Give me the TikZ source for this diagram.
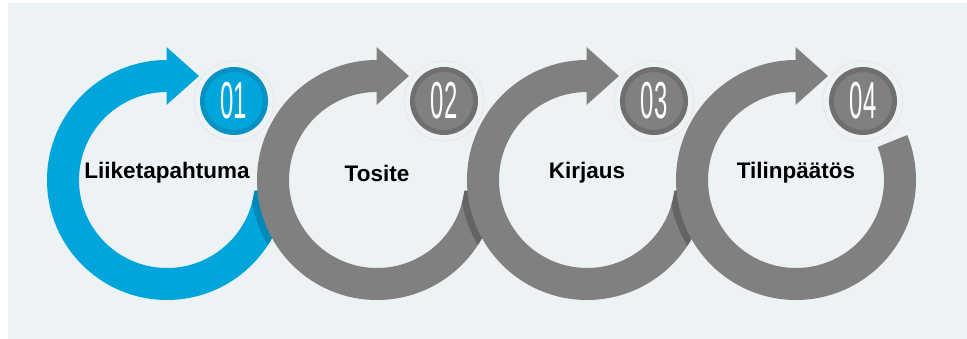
\documentclass[tikz,border=0pt]{standalone}
\usepackage{fontspec}
\setmainfont{Liberation Sans}
\usetikzlibrary{calc}

\definecolor{panelbg}{HTML}{EDF2F5}
\definecolor{halo}{HTML}{E1E8EC}
\definecolor{stepblue}{HTML}{00A6DB}
\definecolor{stepblueedge}{HTML}{0892C4}
\definecolor{stepbluedark}{HTML}{0089B8}
\definecolor{stepgray}{HTML}{808080}
\definecolor{stepgrayedge}{HTML}{6F6F6F}
\definecolor{stepgraydark}{HTML}{646464}

\tikzset{
  steplabel/.style={font=\bfseries\fontsize{22.5}{25}\selectfont, text=black, inner sep=0pt},
  badge/.style={circle, minimum size=63pt, inner sep=0pt, line width=5pt,
    text=white, font=\fontsize{52}{54}\selectfont},
}

\begin{document}
\begin{tikzpicture}[x=1pt, y=1pt]
          \useasboundingbox (0,0) rectangle (967,339);
          \fill[panelbg] (8,0) rectangle (967,336);

          \coordinate (c1) at (167,159);
          \coordinate (c2) at (377,159);
          \coordinate (c3) at (587,159);
          \coordinate (c4) at (796,159);

          % \dark: shadow colour cast on the previous ring
          \foreach \i/\col/\edge/\dark/\lab/\endang in {
              1/stepblue/stepblueedge/stepbluedark/Liiketapahtuma/352,
              2/stepgray/stepgrayedge/stepbluedark/Tosite/352,
              3/stepgray/stepgrayedge/stepgraydark/Kirjaus/352,
              4/stepgray/stepgrayedge/stepgraydark/Tilinpäätös/382} {
            \ifnum\i>1
              \pgfmathtruncatemacro\prev{\i-1}
              \begin{scope}[even odd rule]
                \clip (c\prev) circle[radius=120pt] (c\prev) circle[radius=88pt];
                \fill[\dark]
                  ($(c\i)+(185:127pt)$) arc[start angle=185, end angle=213, radius=127pt]
                  -- ($(c\i)+(213:119pt)$) arc[start angle=213, end angle=185, radius=119pt] -- cycle;
              \end{scope}
            \fi
            % ring and arrow head
            \fill[\col] ($(c\i)+(90:120pt)$) arc[start angle=90, end angle=\endang, radius=120pt]
              -- ($(c\i)+(\endang:88pt)$) arc[start angle=\endang, end angle=90, radius=88pt] -- cycle;
            \fill[\col] ($(c\i)+(-0.5,133)$) -- ($(c\i)+(32,104)$) -- ($(c\i)+(-0.5,75)$) -- cycle;

            \node[steplabel] (lab\i) at ($(c\i)+(0,7)$) {\lab};

            \draw[halo, line width=0.8pt] ($(c\i)+(67,79)$) circle[radius=40pt];
            \node[badge, draw=\edge, fill=\col] (num\i) at ($(c\i)+(67,79)$) {\scalebox{.46}[1]{0\i}};
          }
      \end{tikzpicture}
\end{document}
